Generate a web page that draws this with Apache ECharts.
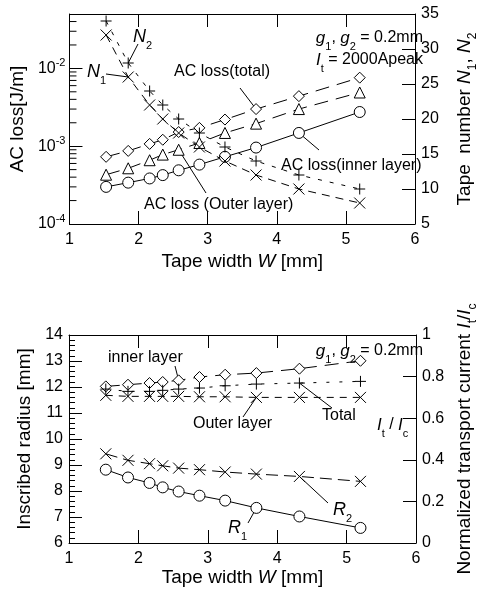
<!DOCTYPE html>
<html><head><meta charset="utf-8">
<script src="https://cdn.jsdelivr.net/npm/echarts@6/dist/echarts.min.js"></script>
<style>html,body{margin:0;padding:0;background:#fff}#c{width:487px;height:592px}</style>
</head><body><div id="c"></div>
<script>
// ---------- data ----------
const widths = [1.53, 1.85, 2.16, 2.35, 2.58, 2.88, 3.25, 3.70, 4.32, 5.20];
const lossTotal = [7.3e-4, 8.7e-4, 1.07e-3, 1.21e-3, 1.52e-3, 1.72e-3, 2.2e-3, 3.0e-3, 4.4e-3, 7.6e-3];
const lossOuter = [4.3e-4, 5.2e-4, 6.6e-4, 7.8e-4, 9.0e-4, 1.1e-3, 1.48e-3, 1.95e-3, 3.0e-3, 4.9e-3];
const lossInner = [3.0e-4, 3.4e-4, 3.85e-4, 4.25e-4, 4.9e-4, 5.8e-4, 7.3e-4, 9.6e-4, 1.48e-3, 2.75e-3];
const tapeN1 = [32, 26, 22, 20, 18, 16, 14, 12, 10, 8];
const tapeN2 = [34, 28, 24, 22, 20, 18, 16, 14, 12, 10];
const radiusR1 = [8.82, 8.52, 8.31, 8.14, 7.98, 7.82, 7.63, 7.35, 7.02, 6.58];
const radiusR2 = [9.43, 9.18, 9.05, 8.97, 8.88, 8.82, 8.73, 8.65, 8.56, 8.37];
const ratioInner = [0.753, 0.761, 0.769, 0.774, 0.782, 0.798, 0.809, 0.817, 0.838, 0.876];
const ratioTotal = [0.74, 0.729, 0.729, 0.734, 0.74, 0.745, 0.756, 0.764, 0.769, 0.777];
const ratioOuter = [0.71, 0.705, 0.705, 0.705, 0.705, 0.703, 0.703, 0.70, 0.70, 0.70];
const xTickValues = [1, 2, 3, 4, 5, 6];
const lossRange = [1e-4, 0.05];
const tapeRange = [5, 35];
const radiusRange = [6, 14];
const ratioRange = [0, 1];

// ---------- style ----------
const FONT = 'Liberation Sans, Arial, sans-serif';
const X_SYM = 'path://M0,0L10,10M10,0L0,10';
const PLUS_SYM = 'path://M5,0L5,10M0,5L10,5';

const chart = echarts.init(document.getElementById('c'), null, {renderer: 'canvas'});

function ser(xi, yi, vals, symbol, size, dash) {
  return {
    type: 'line', xAxisIndex: xi, yAxisIndex: yi,
    data: widths.map((w, i) => [w, vals[i]]),
    symbol: symbol, symbolSize: size, showSymbol: true,
    lineStyle: {color: '#000', width: 1, type: dash},
    itemStyle: {color: '#fff', borderColor: '#000', borderWidth: 1},
    emphasis: {disabled: true}, silent: true, animation: false, z: 3
  };
}

const richCommon = {
  i: {fontStyle: 'italic', fontFamily: FONT, fontSize: 19, color: '#000'},
  sub: {fontFamily: FONT, fontSize: 12, color: '#000', verticalAlign: 'bottom', lineHeight: 28},
  sup: {fontFamily: FONT, fontSize: 11, color: '#000', verticalAlign: 'top', lineHeight: 22},
  n: {fontFamily: FONT, fontSize: 19, color: '#000'}
};

function xAx(gi, pos) {
  return {
    type: 'value', gridIndex: gi, position: pos, min: xTickValues[0], max: xTickValues[xTickValues.length - 1], interval: 1,
    name: pos === 'bottom' ? '{n|Tape width }{i|W}{n| [mm]}' : '',
    nameLocation: 'middle', nameGap: gi === 0 ? 28 : 25,
    nameTextStyle: {rich: richCommon},
    axisLine: {show: true, lineStyle: {color: '#000', width: 1}},
    axisTick: {show: true, inside: true, length: 13, lineStyle: {color: '#000'}},
    axisLabel: {show: pos === 'bottom', color: '#000', fontSize: 16, fontFamily: FONT, margin: 8},
    splitLine: {show: false}
  };
}

const option = {
  animation: false,
  textStyle: {fontFamily: FONT},
  grid: [
    {left: 69, top: 14, width: 362, height: 210},
    {left: 69, top: 335, width: 359, height: 208}
  ],
  xAxis: [xAx(0, 'bottom'), xAx(0, 'top'), xAx(1, 'bottom'), xAx(1, 'top')],
  yAxis: [
    {
      type: 'log', gridIndex: 0, position: 'left', min: lossRange[0], max: lossRange[1], logBase: 10,
      name: 'AC loss[J/m]', nameLocation: 'middle', nameGap: 37,
      nameTextStyle: {color: '#000', fontSize: 19, fontFamily: FONT},
      axisLine: {show: true, lineStyle: {color: '#000'}},
      axisTick: {show: true, inside: true, length: 13, lineStyle: {color: '#000'}},
      axisLabel: {
        color: '#000', margin: 4, showMaxLabel: false,
        formatter: function (v) {
          const e = Math.log10(v);
          if (Math.abs(e - Math.round(e)) > 1e-6) return '';
          return '{b|10}{sup|' + Math.round(e) + '}';
        },
        rich: {b: {fontSize: 16, fontFamily: FONT, color: '#000', lineHeight: 22}, sup: richCommon.sup}
      },
      splitLine: {show: false}
    },
    {
      type: 'value', gridIndex: 0, position: 'right', min: tapeRange[0], max: tapeRange[1], interval: 5,
      name: '{n|Tape  number }{i|N}{sub|1}{n|, }{i|N}{sub|2}', nameLocation: 'middle', nameGap: 36,
      nameTextStyle: {rich: richCommon},
      axisLine: {show: true, lineStyle: {color: '#000'}},
      axisTick: {show: true, inside: true, length: 13, lineStyle: {color: '#000'}},
      axisLabel: {color: '#000', fontSize: 16, fontFamily: FONT, margin: 6},
      splitLine: {show: false}
    },
    {
      type: 'value', gridIndex: 1, position: 'left', min: radiusRange[0], max: radiusRange[1], interval: 1,
      name: 'Inscribed radius [mm]', nameLocation: 'middle', nameGap: 33,
      nameTextStyle: {color: '#000', fontSize: 19, fontFamily: FONT},
      axisLine: {show: true, lineStyle: {color: '#000'}},
      axisTick: {show: true, inside: true, length: 13, lineStyle: {color: '#000'}},
      minorTick: {show: true, splitNumber: 5, length: 6, lineStyle: {color: '#000'}},
      axisLabel: {color: '#000', fontSize: 16, fontFamily: FONT, margin: 6},
      splitLine: {show: false}
    },
    {
      type: 'value', gridIndex: 1, position: 'right', min: ratioRange[0], max: ratioRange[1], interval: 0.2,
      name: '{n|Normalized transport current }{i|I}{sub|t}{n|/}{i|I}{sub|c}', nameLocation: 'middle', nameGap: 35,
      nameTextStyle: {rich: richCommon},
      axisLine: {show: true, lineStyle: {color: '#000'}},
      axisTick: {show: true, inside: true, length: 13, lineStyle: {color: '#000'}},
      axisLabel: {color: '#000', fontSize: 16, fontFamily: FONT, margin: 6},
      splitLine: {show: false}
    }
  ],
  series: [
    ser(0, 0, lossTotal, 'diamond', 11, [14, 8]),
    ser(0, 0, lossOuter, 'triangle', 11, [14, 8]),
    ser(0, 0, lossInner, 'circle', 11, 'solid'),
    ser(0, 1, tapeN1, X_SYM, 11, [8, 6]),
    ser(0, 1, tapeN2, PLUS_SYM, 11, [4, 8]),
    ser(2, 2, radiusR1, 'circle', 11, 'solid'),
    ser(2, 2, radiusR2, X_SYM, 11, [12, 6]),
    ser(2, 3, ratioInner, 'diamond', 11, [14, 8]),
    ser(2, 3, ratioTotal, PLUS_SYM, 11, [3, 10]),
    ser(2, 3, ratioOuter, X_SYM, 11, [7, 6])
  ]
};
chart.setOption(option);

// ---------- log-axis minor ticks (positions from the axis scale) ----------
const g = [];
for (let k = -4; k <= -2; k++) {
  for (let m = 2; m <= 9; m++) {
    const v = m * Math.pow(10, k);
    if (v >= lossRange[1]) continue;
    const p = chart.convertToPixel({xAxisIndex: 0, yAxisIndex: 0}, [xTickValues[0], v]);
    g.push({type: 'line', z: 5, silent: true, shape: {x1: p[0], y1: p[1], x2: p[0] + 7, y2: p[1]}, style: {stroke: '#000', lineWidth: 1}});
  }
}

// ---------- annotations ----------
function txt(x, y, text, align) {
  return {type: 'text', x: x, y: y, z: 10, silent: true,
    style: {text: text, x: 0, y: 0, align: align || 'left', verticalAlign: 'middle', fontFamily: FONT, fontSize: 16, fill: '#000',
      rich: {
        i: {fontStyle: 'italic', fontFamily: FONT, fontSize: 17, fill: '#000'},
        I: {fontStyle: 'italic', fontFamily: FONT, fontSize: 18, fill: '#000'},
        sub: {fontFamily: FONT, fontSize: 11, fill: '#000', verticalAlign: 'bottom', lineHeight: 28},
        n: {fontFamily: FONT, fontSize: 16, fill: '#000'}
      }}};
}
function leader(x, y, seriesIndex, vals, idx) {
  const p = chart.convertToPixel({seriesIndex: seriesIndex}, [widths[idx], vals[idx]]);
  return {type: 'line', z: 1, silent: true, shape: {x1: x, y1: y, x2: p[0], y2: p[1]}, style: {stroke: '#000', lineWidth: 1}};
}
g.push(
  txt(423, 38, '{i|g}{sub|1}{n|, }{i|g}{sub|2}{n| = 0.2mm}', 'right'),
  txt(423, 60, '{i|I}{sub|t}{n| = 2000Apeak}', 'right'),
  txt(133, 37, '{I|N}{sub|2}'),
  txt(87, 72, '{I|N}{sub|1}'),
  txt(174, 72, 'AC loss(total)'),
  txt(144, 205, 'AC loss (Outer layer)'),
  txt(281, 166, 'AC loss(inner layer)'),
  leader(138, 44, 4, tapeN2, 1),
  leader(106, 74, 3, tapeN1, 1),
  leader(240, 88, 0, lossTotal, 7),
  leader(206, 193, 1, lossOuter, 4),
  leader(319, 150, 2, lossInner, 8),
  txt(108, 358, 'inner layer'),
  txt(423, 351, '{i|g}{sub|1}{n|, }{i|g}{sub|2}{n| = 0.2mm}', 'right'),
  txt(193, 424, 'Outer layer'),
  txt(322, 416, 'Total'),
  txt(377, 425, '{i|I}{sub|t}{n| / }{i|I}{sub|c}'),
  txt(228, 528, '{I|R}{sub|1}'),
  txt(333, 510, '{I|R}{sub|2}'),
  leader(175, 366, 7, ratioInner, 4),
  leader(243, 417, 9, ratioOuter, 7),
  leader(332, 408, 8, ratioTotal, 8),
  leader(248, 523, 5, radiusR1, 7),
  leader(328, 503, 6, radiusR2, 8)
);
chart.setOption({graphic: g});
</script>
</body></html>
